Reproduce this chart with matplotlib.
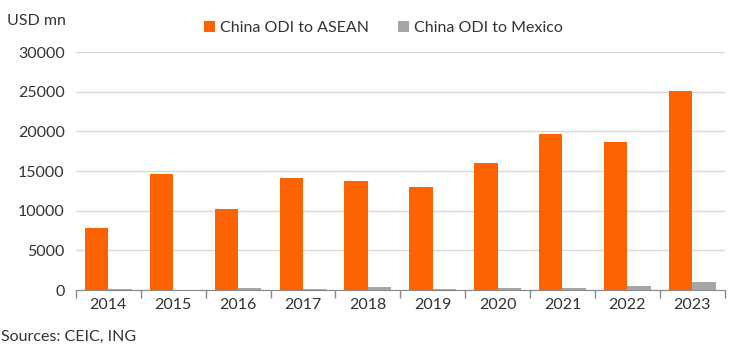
import numpy as np
import matplotlib.pyplot as plt
from matplotlib.ticker import FixedLocator

plt.rcParams['font.family'] = ['Lato', 'DejaVu Sans']

years = ['2014', '2015', '2016', '2017', '2018', '2019', '2020', '2021', '2022', '2023']
asean = [7800, 14600, 10200, 14100, 13700, 13000, 16000, 19700, 18700, 25100]
mexico = [100, 20, 250, 150, 400, 120, 250, 260, 560, 1000]
yticks = [0, 5000, 10000, 15000, 20000, 25000, 30000]

orange = '#FF6200'
grey = '#A6A6A6'
txt = '#333333'

fig = plt.figure(figsize=(7.44, 3.49), dpi=100)
ax = fig.add_axes([0.102, 0.169, 0.872, 0.682])

x = np.arange(len(years))
w = 0.36
ax.bar(x - w / 2, asean, w, color=orange, label='China ODI to ASEAN', zorder=3)
ax.bar(x + w / 2, mexico, w, color=grey, label='China ODI to Mexico', zorder=3)

ax.set_xlim(-0.5, len(years) - 0.5)
ax.set_ylim(0, 30000)
ax.set_yticks(yticks)
ax.set_yticklabels([str(v) for v in yticks], fontsize=11.5, color=txt)
ax.set_xticks(x)
ax.set_xticklabels(years, fontsize=11.5, color=txt)
ax.tick_params(axis='x', which='major', length=0, pad=6)
ax.xaxis.set_minor_locator(FixedLocator(np.arange(-0.5, len(years), 1)))
ax.tick_params(axis='x', which='minor', length=6, color='#888888', width=1)
ax.tick_params(axis='y', length=0, pad=8)

ax.grid(axis='y', color='#D9D9D9', linewidth=1, zorder=0)
for s in ['top', 'right', 'left']:
    ax.spines[s].set_visible(False)
ax.spines['bottom'].set_color('#888888')

fig.text(0.01, 0.94, 'USD mn', fontsize=11.5, color=txt, va='center')
fig.text(0.002, 0.035, 'Sources: CEIC, ING', fontsize=11.5, color=txt, va='center')
fig.legend(loc='center', bbox_to_anchor=(0.515, 0.92), ncol=2, frameon=False,
           fontsize=11.5, handlelength=0.7, handleheight=0.7, handletextpad=0.3,
           columnspacing=1.8, labelcolor=txt)

fig.savefig('out.png', dpi=100)
